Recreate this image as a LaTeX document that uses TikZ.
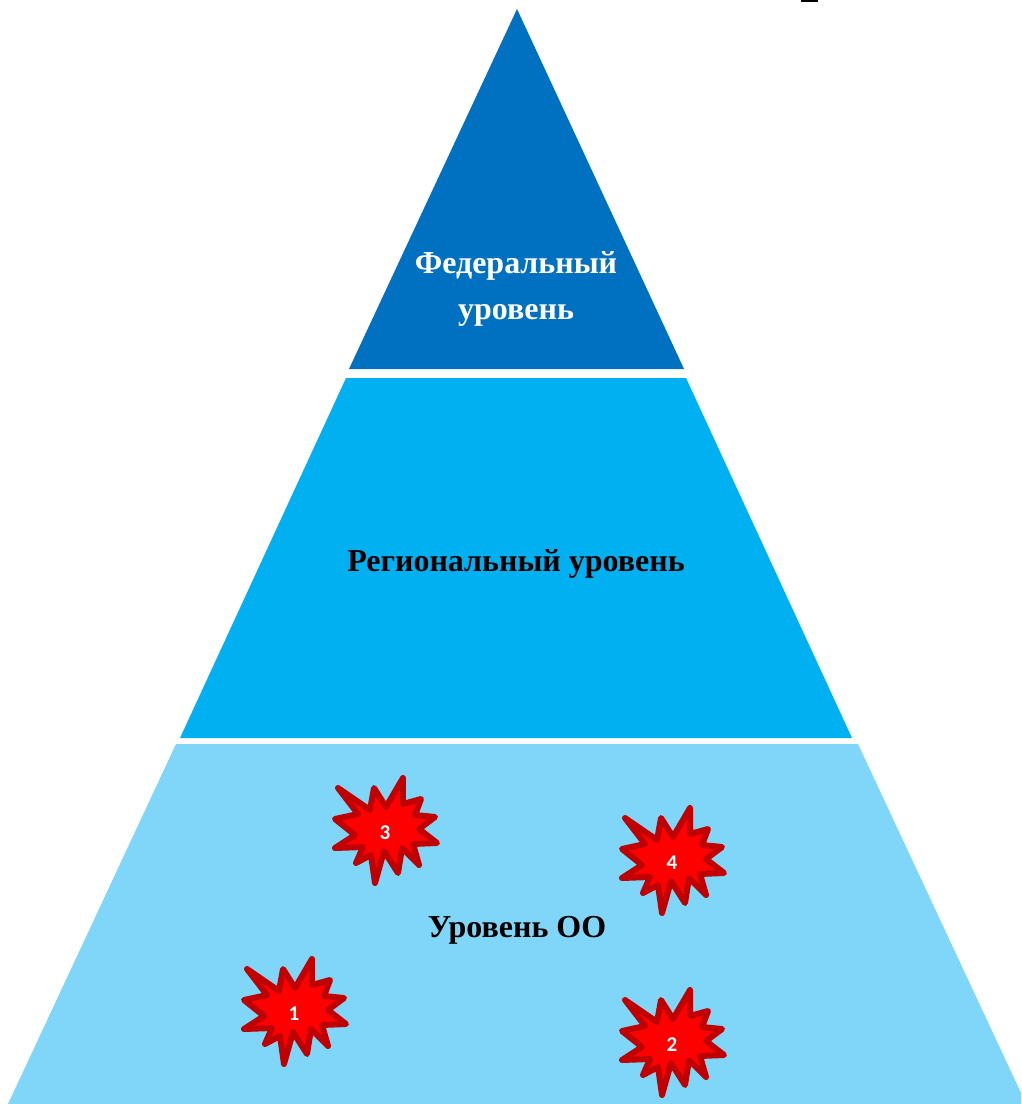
\documentclass[tikz,border=0pt]{standalone}
\usepackage{fontspec}
\setmainfont{Liberation Serif}
\newfontfamily\digitfont[BoldFont={Carlito Bold}]{Carlito}
\definecolor{topblue}{HTML}{0070C0}
\definecolor{midblue}{HTML}{00B0F0}
\definecolor{lowblue}{HTML}{80D6F8}
\definecolor{burstred}{HTML}{C00000}
\tikzset{
	levellabel/.style={font=\bfseries\fontsize{18.2}{26}\selectfont, align=center, inner sep=0pt},
	burstlabel/.style={font=\digitfont\bfseries\fontsize{12}{12}\selectfont, text=white, inner sep=0pt},
	burst/.pic={
		\draw[line width=3.4pt, burstred, fill=red, line join=round]
			(-47,-44) -- (-15,-22) -- (-11,-44) -- (1,-25) -- (18,-54) -- (18,-28) -- (36,-33) -- (30,-17)
			-- (50,-15) -- (34,-3) -- (52,11) -- (28,12) -- (34,33) -- (17,16) -- (13,41) -- (-1,19)
			-- (-10,51) -- (-14,23) -- (-29,31) -- (-22,15) -- (-50,16) -- (-30,3) -- (-50,-13) -- (-27,-18) -- cycle;
	}
}
\begin{document}
\begin{tikzpicture}[x=0.02cm, y=-0.02cm]
		\useasboundingbox (0,0) rectangle (1021,1104);
		\fill[topblue] (517,9) -- (684,369) -- (349,369) -- cycle;
		\fill[midblue] (346,378) -- (686,378) -- (852,738) -- (180,738) -- cycle;
		\fill[lowblue] (176,744) -- (858,744) -- (1021,1093) -- (1021,1104) -- (8,1104) -- cycle;
		\fill[black] (801,0) rectangle (818,2);
		\node[levellabel, text=white] (federal) at (516,289) {Федеральный\\уровень};
		\node[levellabel] (regional) at (516,564) {Региональный уровень};
		\node[levellabel] (school) at (517,930) {Уровень ОО};
		\pic at (385,832) {burst};
		\pic at (672,862) {burst};
		\pic at (294,1013) {burst};
		\pic at (672,1044) {burst};
		\node[burstlabel] (b3) at (385,833) {3};
		\node[burstlabel] (b4) at (672,863) {4};
		\node[burstlabel] (b1) at (294,1014) {1};
		\node[burstlabel] (b2) at (672,1045) {2};
	\end{tikzpicture}
\end{document}
